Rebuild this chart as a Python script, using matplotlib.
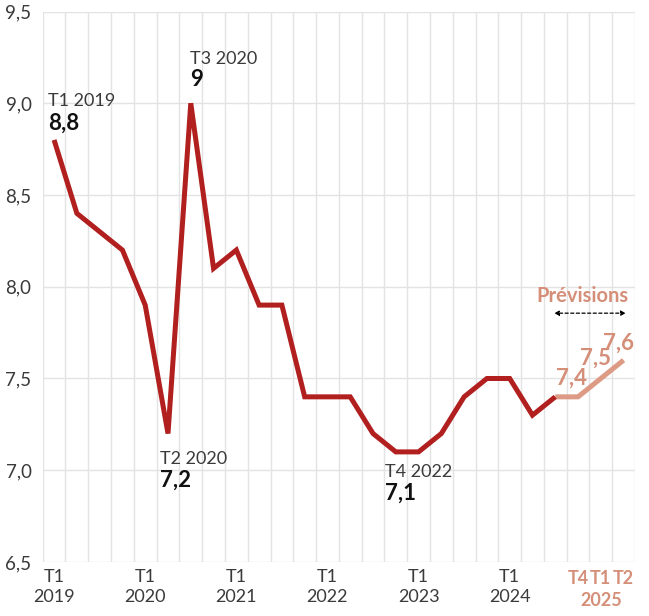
import matplotlib
matplotlib.use("Agg")
import matplotlib.pyplot as plt

plt.rcParams['font.family'] = ['Lato', 'DejaVu Sans']

# Data (quarterly unemployment rate, %)
quarters = ["T1 2019", "T2 2019", "T3 2019", "T4 2019",
            "T1 2020", "T2 2020", "T3 2020", "T4 2020",
            "T1 2021", "T2 2021", "T3 2021", "T4 2021",
            "T1 2022", "T2 2022", "T3 2022", "T4 2022",
            "T1 2023", "T2 2023", "T3 2023", "T4 2023",
            "T1 2024", "T2 2024", "T3 2024"]
observed = [8.8, 8.4, 8.3, 8.2,
            7.9, 7.2, 9.0, 8.1,
            8.2, 7.9, 7.9, 7.4,
            7.4, 7.4, 7.2, 7.1,
            7.1, 7.2, 7.4, 7.5,
            7.5, 7.3, 7.4]
forecast_quarters = ["T3 2024", "T4 2024", "T1 2025", "T2 2025"]
forecast = [7.4, 7.4, 7.5, 7.6]

xtick_idx = [0, 4, 8, 12, 16, 20]
xtick_labels = ["T1\n2019", "T1\n2020", "T1\n2021", "T1\n2022", "T1\n2023", "T1\n2024"]
fc_tick_labels = ["T4", "T1", "T2"]
fc_year = "2025"
yticks = [6.5, 7.0, 7.5, 8.0, 8.5, 9.0, 9.5]

highlights = [(0, "T1 2019", "8,8"), (6, "T3 2020", "9"),
              (5, "T2 2020", "7,2"), (15, "T4 2022", "7,1")]

RED = "#b11f1f"
SALMON = "#dd9a84"
SALMON_TXT = "#d58f78"
GRID = "#e3e3e3"
TXT = "#3a3a3a"

fig = plt.figure(figsize=(6.49, 6.16), dpi=100)
ax = fig.add_axes([0.0658, 0.0877, 0.9126, 0.8936])

n_total = len(observed) + len(forecast) - 1
x_obs = list(range(len(observed)))
x_fc = list(range(len(observed) - 1, len(observed) - 1 + len(forecast)))

ax.set_xlim(-0.5, n_total - 0.5)
ax.set_ylim(6.5, 9.5)

# grid
for k in range(n_total + 1):
    ax.axvline(k - 0.5, color=GRID, lw=1.0, zorder=0)
for y in yticks:
    ax.axhline(y, color=GRID, lw=1.0, zorder=0)
for s in ax.spines.values():
    s.set_visible(False)

ax.plot(x_fc, forecast, color=SALMON, lw=3.6, solid_capstyle='butt',
        solid_joinstyle='miter', zorder=2)
ax.plot(x_obs, observed, color=RED, lw=3.6, solid_capstyle='butt',
        solid_joinstyle='miter', zorder=3)

# ticks
ax.set_yticks(yticks)
ax.set_yticklabels([f"{v:.1f}".replace(".", ",") for v in yticks], fontsize=13.5, color=TXT)
ax.tick_params(axis='y', length=0, pad=8)
ax.set_xticks(xtick_idx)
ax.set_xticklabels(xtick_labels, fontsize=13, color=TXT, linespacing=1.3)
ax.tick_params(axis='x', length=0, pad=5)

# forecast tick labels
tr = ax.get_xaxis_transform()
for i, lab in enumerate(fc_tick_labels):
    ax.text(x_fc[1] + i, -0.014, lab, transform=tr, ha='center', va='top',
            fontsize=13, fontweight='bold', color=SALMON_TXT)
ax.text(x_fc[2], -0.054, fc_year, transform=tr, ha='center', va='top',
        fontsize=13, fontweight='bold', color=SALMON_TXT)

# annotations: (dx, y label, y value)
pos = {0: (-0.28, 9.01, 8.89), 6: (-0.05, 9.24, 9.13),
       5: (-0.35, 7.06, 6.945), 15: (-0.48, 6.99, 6.875)}
for idx, lab, val in highlights:
    dx, y1, y2 = pos[idx]
    ax.text(idx + dx, y1, lab, ha='left', va='center', fontsize=13, color=TXT)
    ax.text(idx + dx, y2, val, ha='left', va='center', fontsize=16,
            fontweight='bold', color='#111111')

# forecast value labels
fc_lab_pos = [(22.7, 7.50), (23.75, 7.61), (24.78, 7.69)]
for (lx, ly), v in zip(fc_lab_pos, forecast[1:]):
    ax.text(lx, ly, f"{v:.1f}".replace(".", ","), ha='center', va='center',
            fontsize=16, fontweight='bold', color=SALMON_TXT)

ax.text(23.2, 7.95, "Prévisions", ha='center', va='center', fontsize=14.5,
        fontweight='bold', color=SALMON_TXT)
ax.annotate("", xy=(21.95, 7.856), xytext=(25.1, 7.856),
            arrowprops=dict(arrowstyle='<|-|>', color='black', lw=0.9, ls=(0, (2.5, 2)),
                            mutation_scale=7, shrinkA=0, shrinkB=0))

fig.savefig("out.png", dpi=100)
